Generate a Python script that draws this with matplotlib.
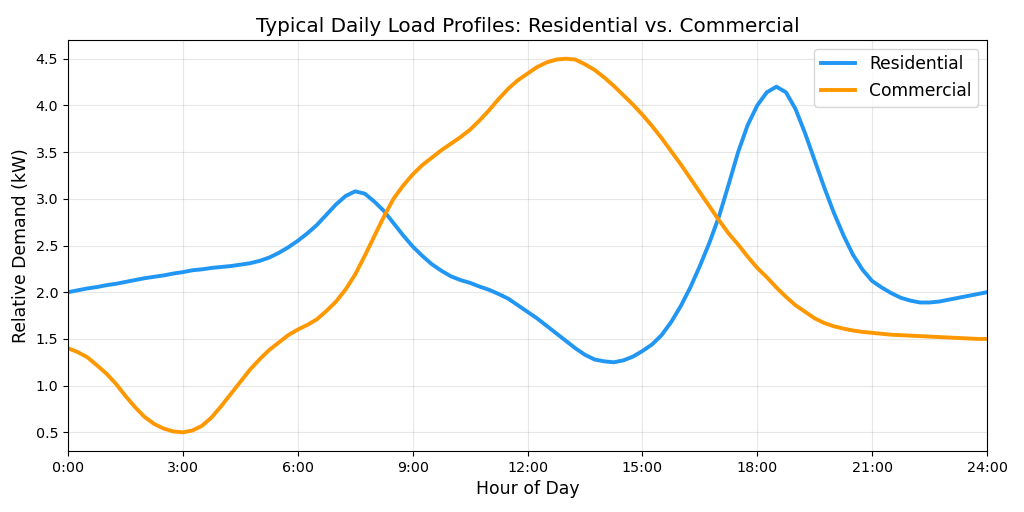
import numpy as np
import matplotlib
matplotlib.use("Agg")
import matplotlib.pyplot as plt

# ── Data (every quarter hour) ──────────────────────────────
hours = np.arange(0, 24.25, 0.25)

residential = [
    2.00, 2.02, 2.04, 2.055, 2.075, 2.09, 2.11, 2.13,     # 0:00 – 1:45
    2.15, 2.165, 2.18, 2.20, 2.215, 2.235, 2.245, 2.26,   # 2:00 – 3:45
    2.27, 2.28, 2.295, 2.31, 2.335, 2.37, 2.42, 2.48,     # 4:00 – 5:45
    2.55, 2.63, 2.72, 2.83, 2.94, 3.03, 3.08, 3.055,      # 6:00 – 7:45
    2.97, 2.87, 2.74, 2.61, 2.49, 2.39, 2.30, 2.23,       # 8:00 – 9:45
    2.17, 2.13, 2.10, 2.06, 2.025, 1.98, 1.93, 1.86,      # 10:00 – 11:45
    1.79, 1.72, 1.64, 1.56, 1.48, 1.40, 1.33, 1.28,       # 12:00 – 13:45
    1.26, 1.25, 1.27, 1.31, 1.37, 1.44, 1.54, 1.68,       # 14:00 – 15:45
    1.85, 2.05, 2.28, 2.53, 2.81, 3.15, 3.50, 3.79,       # 16:00 – 17:45
    4.00, 4.14, 4.20, 4.14, 3.96, 3.70, 3.41, 3.12,       # 18:00 – 19:45
    2.85, 2.61, 2.40, 2.24, 2.12, 2.05, 1.99, 1.94,       # 20:00 – 21:45
    1.91, 1.89, 1.89, 1.90, 1.92, 1.94, 1.96, 1.98,       # 22:00 – 23:45
    2.00,
]

commercial = [
    1.40, 1.36, 1.305, 1.22, 1.13, 1.02, 0.89, 0.77,
    0.665, 0.59, 0.54, 0.51, 0.50, 0.52, 0.57, 0.66,
    0.78, 0.91, 1.04, 1.17, 1.28, 1.38, 1.46, 1.54,
    1.60, 1.65, 1.71, 1.80, 1.90, 2.03, 2.19, 2.39,
    2.60, 2.81, 3.00, 3.14, 3.26, 3.36, 3.44, 3.52,
    3.59, 3.66, 3.74, 3.84, 3.95, 4.07, 4.18, 4.27,
    4.34, 4.41, 4.46, 4.49, 4.50, 4.49, 4.44, 4.38,
    4.30, 4.21, 4.11, 4.01, 3.90, 3.78, 3.65, 3.51,
    3.37, 3.22, 3.07, 2.92, 2.77, 2.63, 2.51, 2.38,
    2.26, 2.16, 2.05, 1.95, 1.86, 1.79, 1.72, 1.67,
    1.635, 1.61, 1.59, 1.575, 1.565, 1.555, 1.545, 1.54,
    1.535, 1.53, 1.525, 1.52, 1.515, 1.51, 1.505, 1.50,
    1.50,
]

tick_hours = list(range(0, 25, 3))
tick_labels = [f"{h}:00" for h in tick_hours]

RES_COLOR = "#2196F3"
COM_COLOR = "#FF9800"

# ── Plot ───────────────────────────────────────────────────
fig, ax = plt.subplots(figsize=(10.24, 5.12), dpi=100)
fig.subplots_adjust(left=0.0664, right=0.9639, top=0.9219, bottom=0.1191)

ax.plot(hours, residential, color=RES_COLOR, linewidth=2.8,
        solid_joinstyle="round", label="Residential")
ax.plot(hours, commercial, color=COM_COLOR, linewidth=2.8,
        solid_joinstyle="round", label="Commercial")

ax.set_xlim(0, 24)
ax.set_xticks(tick_hours)
ax.set_xticklabels(tick_labels)
ax.tick_params(labelsize=10.3)
ax.set_title("Typical Daily Load Profiles: Residential vs. Commercial", fontsize=14.4)
ax.set_xlabel("Hour of Day", fontsize=12.4)
ax.set_ylabel("Relative Demand (kW)", fontsize=12.4)
ax.grid(True, alpha=0.3)
ax.legend(loc="upper right", fontsize=12.3)

plt.savefig("out.png", dpi=100)
plt.close()
